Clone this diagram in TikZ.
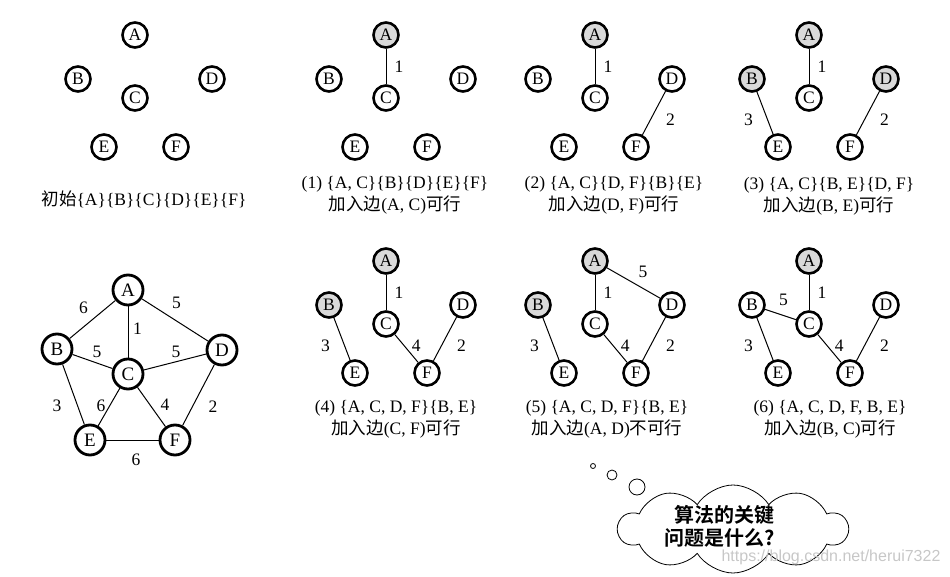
\documentclass[tikz,border=0pt]{standalone}
\usepackage{fontspec}
\setmainfont{Liberation Serif}
\newfontfamily\cjk{Noto Sans CJK SC}
\newfontfamily\cjkb{Noto Sans CJK SC Bold}
\newfontfamily\wmk{Liberation Sans}
\usetikzlibrary{shapes.symbols}
\definecolor{selgray}{gray}{0.85}
\definecolor{wmgray}{gray}{0.78}
\newcommand{\zh}[1]{{\cjk #1}}
\newcommand{\sixver}[1]{%
    \foreach \vn/\vx/\vy in {A/0/0,B/-57/44,C/0/63,D/77/44,E/-31/112,F/41/112}
        \node[ver,v\vn] (#1\vn) at (\vx,\vy) {\vn};%
}
\tikzset{%
    ver/.style={circle, draw, fill=white, line width=2.6pt, minimum size=25pt, inner sep=0pt, font=\fontsize{17.5}{17.5}\selectfont},
    verb/.style={ver, line width=2.8pt, minimum size=30pt, font=\fontsize{19}{19}\selectfont},
    sel/.style={fill=selgray},
    vA/.style={}, vB/.style={}, vC/.style={}, vD/.style={}, vE/.style={}, vF/.style={},
    edg/.style={line width=1pt},
    wei/.style={inner sep=0pt, font=\fontsize{17.5}{17.5}\selectfont},
    capt/.style={align=center, font=\fontsize{17.5}{22}\selectfont},
    bub/.style={circle, draw, line width=0.8pt, inner sep=0pt},
}
\begin{document}
\begin{tikzpicture}[x=1pt, y=-1pt]
    \useasboundingbox (0,0) rectangle (950,577);
    \begin{scope}[shift={(135,35)}]
        \sixver{s0}
    \end{scope}
    \node[capt] (t0) at (144,199) {\zh{初始}\{A\}\{B\}\{C\}\{D\}\{E\}\{F\}};
    \begin{scope}[shift={(386,35)}, vA/.style={sel}]
        \sixver{s1}
        \draw[edg] (s1A) -- node[wei,xshift=13pt]{1} (s1C);
    \end{scope}
    \node[capt] (t1) at (395,195) {(1) \{A, C\}\{B\}\{D\}\{E\}\{F\}\\\zh{加入边}(A, C)\zh{可行}};
    \begin{scope}[shift={(595,35)}, vA/.style={sel}]
        \sixver{s2}
        \draw[edg] (s2A) -- node[wei,xshift=13pt]{1} (s2C);
        \draw[edg] (s2D) -- node[wei,pos=.65,xshift=20pt]{2} (s2F);
    \end{scope}
    \node[capt] (t2) at (614,195) {(2) \{A, C\}\{D, F\}\{B\}\{E\}\\\zh{加入边}(D, F)\zh{可行}};
    \begin{scope}[shift={(809,35)}, vA/.style={sel}, vB/.style={sel}, vD/.style={sel}]
        \sixver{s3}
        \draw[edg] (s3A) -- node[wei,xshift=13pt]{1} (s3C);
        \draw[edg] (s3D) -- node[wei,pos=.65,xshift=20pt]{2} (s3F);
        \draw[edg] (s3B) -- node[wei,pos=.66,xshift=-19pt]{3} (s3E);
    \end{scope}
    \node[capt] (t3) at (829,196) {(3) \{A, C\}\{B, E\}\{D, F\}\\\zh{加入边}(B, E)\zh{可行}};
    \node[verb] (gA) at (128,290) {A};
    \node[verb] (gB) at (57,349) {B};
    \node[verb] (gC) at (128,374) {C};
    \node[verb] (gD) at (222,350) {D};
    \node[verb] (gE) at (90,440) {E};
    \node[verb] (gF) at (175,440) {F};
    \draw[edg] (gA) -- node[wei,xshift=-9pt,yshift=11.5pt]{6} (gB);
    \draw[edg] (gA) -- node[wei,xshift=1.5pt,yshift=17pt]{5} (gD);
    \draw[edg] (gA) -- node[wei,xshift=9.5pt,yshift=3pt]{1} (gC);
    \draw[edg] (gB) -- node[wei,xshift=4.5pt,yshift=9.5pt]{5} (gC);
    \draw[edg] (gC) -- node[wei,xshift=1pt,yshift=10pt]{5} (gD);
    \draw[edg] (gB) -- node[wei,xshift=-16.5pt,yshift=-11.5pt]{3} (gE);
    \draw[edg] (gC) -- node[wei,xshift=-8pt,yshift=1pt]{6} (gE);
    \draw[edg] (gC) -- node[wei,xshift=13.5pt,yshift=2pt]{4} (gF);
    \draw[edg] (gD) -- node[wei,xshift=14.5pt,yshift=-12pt]{2} (gF);
    \draw[edg] (gE) -- node[wei,xshift=3.5pt,yshift=-20pt]{6} (gF);
    \begin{scope}[shift={(386,261)}, vA/.style={sel}, vB/.style={sel}]
        \sixver{s4}
        \draw[edg] (s4A) -- node[wei,xshift=13pt]{1} (s4C);
        \draw[edg] (s4D) -- node[wei,pos=.65,xshift=20pt]{2} (s4F);
        \draw[edg] (s4B) -- node[wei,pos=.66,xshift=-19pt]{3} (s4E);
        \draw[edg] (s4C) -- node[wei,pos=.4,xshift=12pt]{4} (s4F);
    \end{scope}
    \node[capt] (t4) at (396,419) {(4) \{A, C, D, F\}\{B, E\}\\\zh{加入边}(C, F)\zh{可行}};
    \begin{scope}[shift={(595,261)}, vA/.style={sel}, vB/.style={sel}]
        \sixver{s5}
        \draw[edg] (s5A) -- node[wei,xshift=13pt]{1} (s5C);
        \draw[edg] (s5D) -- node[wei,pos=.65,xshift=20pt]{2} (s5F);
        \draw[edg] (s5B) -- node[wei,pos=.66,xshift=-19pt]{3} (s5E);
        \draw[edg] (s5C) -- node[wei,pos=.4,xshift=12pt]{4} (s5F);
        \draw[edg] (s5A) -- node[wei,pos=.68,yshift=17pt]{5} (s5D);
    \end{scope}
    \node[capt] (t5) at (607,419) {(5) \{A, C, D, F\}\{B, E\}\\\zh{加入边}(A, D)\zh{不可行}};
    \begin{scope}[shift={(809,261)}, vA/.style={sel}]
        \sixver{s6}
        \draw[edg] (s6A) -- node[wei,xshift=13pt]{1} (s6C);
        \draw[edg] (s6D) -- node[wei,pos=.65,xshift=20pt]{2} (s6F);
        \draw[edg] (s6B) -- node[wei,pos=.66,xshift=-19pt]{3} (s6E);
        \draw[edg] (s6C) -- node[wei,pos=.4,xshift=12pt]{4} (s6F);
        \draw[edg] (s6B) -- node[wei,pos=.6,yshift=16pt]{5} (s6C);
    \end{scope}
    \node[capt] (t6) at (830,419) {(6) \{A, C, D, F, B, E\}\\\zh{加入边}(B, C)\zh{可行}};
    \node[bub, minimum size=5pt] (b1) at (593,466) {};
    \node[bub, minimum size=10pt] (b2) at (612,475) {};
    \node[bub, minimum size=16pt] (b3) at (637,487) {};
    \node[cloud, draw, line width=0.8pt, cloud puffs=10, cloud puff arc=115, aspect=2.6, minimum width=229pt, minimum height=88pt, inner sep=0pt] (think) at (733,529) {};
    \node[align=center, font=\cjkb\fontsize{20}{23}\selectfont] (q) at (720,526) {\hspace{8pt}算法的关键\\问题是什么?};
    \node[text=wmgray, font=\wmk\fontsize{16}{16}\selectfont] (wm) at (831,557) {https://blog.csdn.net/herui7322};
\end{tikzpicture}
\end{document}
